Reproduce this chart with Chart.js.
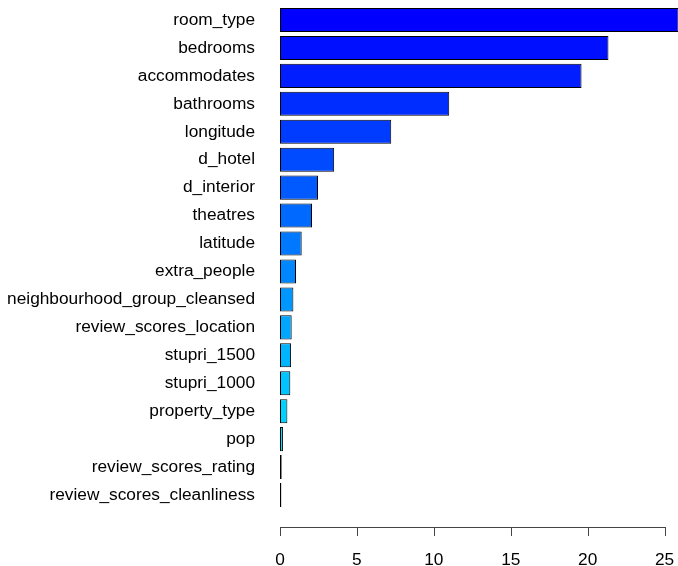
<!DOCTYPE html>
<html>
<head>
<meta charset="utf-8">
<script src="https://cdn.jsdelivr.net/npm/chart.js@4/dist/chart.umd.min.js"></script>
<style>
  html, body { margin: 0; padding: 0; background: #fff; }
  #wrap { width: 678px; height: 566px; }
</style>
</head>
<body>
<div id="wrap"><canvas id="chart" width="678" height="566"></canvas></div>
<script>
// relative influence, biggest first (top bar first)
const variables = [
  "room_type", "bedrooms", "accommodates", "bathrooms", "longitude",
  "d_hotel", "d_interior", "theatres", "latitude", "extra_people",
  "neighbourhood_group_cleansed", "review_scores_location", "stupri_1500",
  "stupri_1000", "property_type", "pop", "review_scores_rating",
  "review_scores_cleanliness"
];
const relInf = [
  25.9, 21.35, 19.6, 11.0, 7.23,
  3.52, 2.47, 2.08, 1.41, 1.04,
  0.87, 0.76, 0.72,
  0.67, 0.48, 0.2, 0.11,
  0.09
];
const xTicks = [0, 5, 10, 15, 20, 25];

// rainbow(n, start = 3/6, end = 4/6): cyan at the bottom, blue at the top
function rainbowCol(n) {
  const out = [];
  for (let i = 0; i < n; i++) {
    const h = (3 / 6 + (1 / 6) * (i / (n - 1))) * 360;
    out.push(`hsl(${h}, 100%, 50%)`);
  }
  return out.reverse();
}
const barColors = rainbowCol(variables.length);

const FONT = { family: "'Liberation Sans', Arial, Helvetica, sans-serif", size: 17.3 };

function noPad(scale) {
  scale.paddingTop = 0;
  scale.paddingBottom = 0;
  scale.paddingLeft = 0;
  scale.paddingRight = 0;
}

// R style axis: line only from first to last tick, sitting a bit below the bars
const rAxis = {
  id: "rAxis",
  afterDraw(chart) {
    const xs = chart.scales.x;
    const ctx = chart.ctx;
    const y = xs.top + 18;
    ctx.save();
    ctx.strokeStyle = "#444";
    ctx.lineWidth = 1;
    ctx.beginPath();
    ctx.moveTo(Math.round(xs.getPixelForValue(xTicks[0])), y + 0.5);
    ctx.lineTo(Math.round(xs.getPixelForValue(xTicks[xTicks.length - 1])) + 1, y + 0.5);
    xTicks.forEach((t) => {
      const px = Math.round(xs.getPixelForValue(t)) + 0.5;
      ctx.moveTo(px, y);
      ctx.lineTo(px, y + 9);
    });
    ctx.stroke();
    ctx.restore();
  },
};

new Chart(document.getElementById("chart"), {
  type: "bar",
  data: {
    labels: variables,
    datasets: [{
      data: relInf,
      backgroundColor: barColors,
      borderColor: "#000",
      borderWidth: 1,
      borderSkipped: false,
      barPercentage: 0.86,
      categoryPercentage: 1.0,
    }],
  },
  options: {
    indexAxis: "y",
    responsive: false,
    animation: false,
    devicePixelRatio: 1,
    layout: { autoPadding: false, padding: { left: 6, right: 0, top: 6, bottom: 0 } },
    plugins: { legend: { display: false }, tooltip: { enabled: false } },
    scales: {
      y: {
        grid: { display: false },
        border: { display: false },
        ticks: { color: "#000", font: FONT, padding: 17 },
        afterFit(scale) { scale.width = 274; noPad(scale); },
      },
      x: {
        min: 0,
        max: 25.87,
        grid: { display: false },
        border: { display: false },
        ticks: { color: "#000", font: FONT, stepSize: 5, padding: 33, maxRotation: 0 },
        afterBuildTicks(scale) {
          scale.ticks = xTicks.map((v) => ({ value: v }));
        },
        afterFit(scale) { scale.height = 57; noPad(scale); },
      },
    },
  },
  plugins: [rAxis],
});
</script>
</body>
</html>
